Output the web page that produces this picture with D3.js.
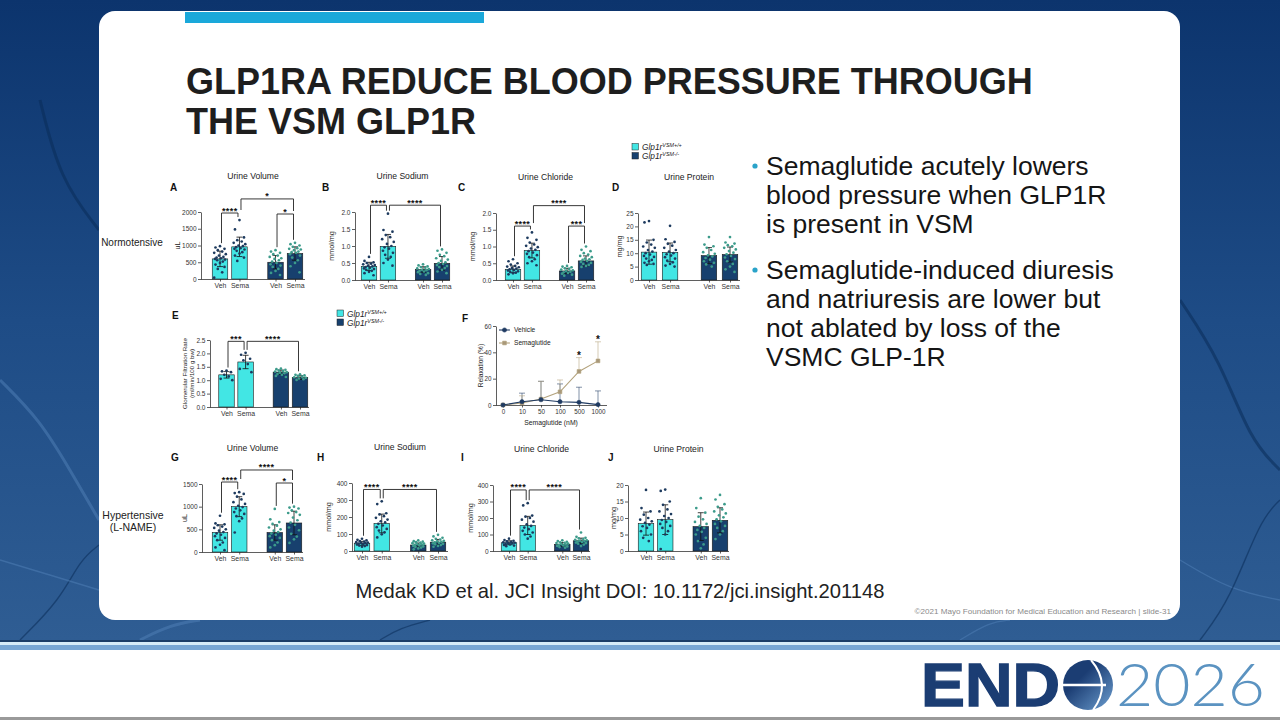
<!DOCTYPE html>
<html>
<head>
<meta charset="utf-8">
<script src="https://cdnjs.cloudflare.com/ajax/libs/d3/7.8.5/d3.min.js"></script>
<style>
  body { margin: 0; background: #fff; overflow: hidden; }
  svg { display: block; }
</style>
</head>
<body>
<script>
// ---- data ----
const groupLabels = ["Veh", "Sema", "Veh", "Sema"];
const legendSup = ["VSM+/+", "VSM-/-"];

// A urine volume, normotensive (uL)
const volNTicks = [0, 500, 1000, 1500, 2000];
const volNMean = [600, 960, 500, 760];
const volNSD = [230, 290, 200, 200];
const volNPts = [
  [980, 940, 900, 860, 820, 780, 740, 700, 660, 640, 620, 600, 580, 560, 520, 480, 430, 360, 300, 200, 40],
  [1760, 1480, 1240, 1160, 1120, 1080, 1040, 1000, 980, 950, 920, 900, 880, 840, 800, 760, 700, 640, 540],
  [860, 820, 780, 740, 700, 660, 620, 600, 560, 520, 480, 440, 400, 360, 300, 240, 180, 120],
  [1080, 1040, 1000, 960, 920, 900, 880, 860, 820, 800, 780, 740, 700, 640, 560, 480, 380, 200]
];
const volNSig = [[0, 1, 1970, "****"], [1, 3, 2390, "*"], [2, 3, 1940, "*"]];

// B urine sodium, normotensive (mmol/mg)
const sodNTicks = [0, 0.5, 1, 1.5, 2];
const sodNMean = [0.40, 0.99, 0.31, 0.49];
const sodNSD = [0.12, 0.35, 0.08, 0.2];
const sodNPts = [
  [0.68, 0.56, 0.52, 0.50, 0.48, 0.46, 0.44, 0.42, 0.40, 0.38, 0.36, 0.34, 0.32, 0.30, 0.27, 0.24, 0.2, 0.14],
  [1.95, 1.47, 1.42, 1.32, 1.26, 1.2, 1.12, 1.06, 1.0, 0.96, 0.92, 0.86, 0.8, 0.74, 0.68, 0.6, 0.5, 0.42],
  [0.46, 0.43, 0.4, 0.38, 0.36, 0.34, 0.32, 0.3, 0.29, 0.27, 0.25, 0.23, 0.2, 0.18, 0.15],
  [0.9, 0.86, 0.8, 0.74, 0.7, 0.64, 0.6, 0.56, 0.52, 0.5, 0.47, 0.44, 0.41, 0.38, 0.35, 0.3, 0.25, 0.2]
];
const sodNSig = [[0, 1, 2.2, "****"], [1, 3, 2.2, "****"]];

// C urine chloride, normotensive (mmol/mg)
const chlNTicks = [0, 0.5, 1, 1.5, 2];
const chlNMean = [0.32, 0.88, 0.27, 0.57];
const chlNSD = [0.1, 0.22, 0.08, 0.15];
const chlNPts = [
  [0.62, 0.56, 0.5, 0.46, 0.42, 0.4, 0.38, 0.36, 0.34, 0.32, 0.3, 0.28, 0.26, 0.24, 0.22, 0.2, 0.17],
  [1.42, 1.26, 1.2, 1.12, 1.06, 1.02, 0.98, 0.94, 0.9, 0.86, 0.82, 0.78, 0.74, 0.68, 0.62, 0.56, 0.5, 0.44],
  [0.42, 0.4, 0.38, 0.35, 0.33, 0.31, 0.29, 0.27, 0.25, 0.23, 0.21, 0.19, 0.16, 0.13],
  [1.0, 0.9, 0.86, 0.8, 0.76, 0.72, 0.68, 0.64, 0.62, 0.6, 0.57, 0.54, 0.51, 0.48, 0.45, 0.42, 0.39]
];
const chlNSig = [[0, 1, 1.61, "****"], [1, 3, 2.22, "****"], [2, 3, 1.61, "***"]];

// D urine protein, normotensive (mg/mg)
const protNTicks = [0, 5, 10, 15, 20, 25];
const protNMean = [10.4, 10.3, 9.1, 9.5];
const protNSD = [4.5, 3.5, 3, 2.8];
const protNPts = [
  [22, 21.5, 15, 14, 13.2, 12.5, 12, 11.2, 10.6, 10, 9.5, 9, 8.6, 8, 7.5, 7, 6.4, 6, 5.6],
  [20.2, 15.2, 14.2, 13.5, 12.8, 12, 11.2, 10.6, 10, 9.6, 9.1, 8.5, 8, 7.2, 6.6, 6, 5.4, 5],
  [16, 13.2, 12.6, 12, 11.2, 10.4, 9.8, 9.2, 8.8, 8.2, 7.6, 7, 6.4, 5.8, 5],
  [16, 14, 13.6, 13, 12.6, 12, 11.4, 10.8, 10.2, 9.6, 9, 8.4, 7.8, 7, 6, 5, 4, 3]
];
const protNSig = [];

// E glomerular filtration rate
const gfrTicks = [0, 0.5, 1, 1.5, 2, 2.5];
const gfrMean = [1.2, 1.68, 1.3, 1.1];
const gfrSD = [0.12, 0.25, 0.08, 0.07];
const gfrPts = [
  [1.36, 1.33, 1.3, 1.2, 1.14, 1.05, 1.0],
  [2.02, 1.95, 1.8, 1.74, 1.6, 1.42, 1.3],
  [1.43, 1.41, 1.39, 1.36, 1.34, 1.32, 1.3, 1.28, 1.26, 1.23, 1.2, 1.16, 1.12],
  [1.22, 1.2, 1.18, 1.16, 1.13, 1.11, 1.09, 1.06, 1.04, 1.01]
];
const gfrSig = [[0, 1, 2.45, "***"], [1, 3, 2.45, "****"]];

// F relaxation
const doseLabels = ["0", "10", "50", "100", "500", "1000"];
const relaxTicks = [0, 20, 40, 60];
const vehRelax = [0, 2.5, 4, 2.5, 2, 0.3];
const vehRelaxErr = [0, 6.5, 14, 13.5, 11.5, 10.4];
const semaRelax = [0, 1.5, 4.5, 10, 25.5, 33.5];
const semaRelaxErr = [0, 5.5, 13.5, 9, 10.5, 14.5];
const relaxSig = ["", "", "", "", "*", "*"];
const relaxSeries = ["Vehicle", "Semaglutide"];

// G urine volume, hypertensive
const volHTicks = [0, 500, 1000, 1500];
const volHMean = [430, 1000, 430, 640];
const volHSD = [170, 220, 170, 260];
const volHPts = [
  [800, 630, 610, 590, 560, 530, 500, 470, 440, 410, 380, 350, 310, 260, 210, 160, 100, 40],
  [1320, 1300, 1280, 1220, 1160, 1100, 1060, 1020, 990, 960, 920, 880, 840, 790, 740, 680, 430],
  [950, 720, 660, 620, 580, 540, 500, 470, 440, 410, 380, 350, 310, 260, 210, 150, 100],
  [1000, 980, 960, 920, 880, 860, 820, 760, 700, 650, 600, 540, 480, 400, 340, 280, 200]
];
const volHSig = [[0, 1, 1544, "****"], [1, 3, 1809, "****"], [2, 3, 1522, "*"]];

// H urine sodium, hypertensive
const sodHTicks = [0, 100, 200, 300, 400];
const sodHMean = [45, 162, 35, 52];
const sodHSD = [12, 55, 12, 16];
const sodHPts = [
  [72, 66, 62, 58, 55, 52, 50, 48, 46, 43, 40, 38, 35, 32, 29, 25],
  [292, 276, 222, 215, 205, 195, 185, 175, 168, 160, 150, 140, 130, 120, 110, 98, 80],
  [62, 58, 55, 52, 49, 46, 43, 41, 39, 36, 33, 30, 27, 24, 20, 15, 10],
  [95, 86, 78, 72, 67, 63, 60, 57, 54, 51, 48, 45, 42, 39, 35, 30, 25]
];
const sodHSig = [[0, 1, 362, "****"], [1, 3, 362, "****"]];

// I urine chloride, hypertensive
const chlHTicks = [0, 100, 200, 300, 400];
const chlHMean = [50, 155, 40, 62];
const chlHSD = [12, 55, 11, 16];
const chlHPts = [
  [75, 66, 62, 58, 55, 52, 50, 48, 46, 43, 40, 37, 33, 29],
  [290, 276, 215, 208, 200, 190, 178, 162, 152, 142, 132, 122, 112, 100, 88, 75],
  [65, 60, 56, 53, 50, 48, 45, 42, 40, 37, 34, 31, 28, 24, 20],
  [112, 86, 80, 76, 72, 68, 65, 62, 60, 57, 54, 51, 48, 44, 39, 30]
];
const chlHSig = [[0, 1, 370, "****"], [1, 3, 370, "****"]];

// J urine protein, hypertensive
const protHTicks = [0, 5, 10, 15, 20];
const protHMean = [8.3, 9.5, 7.4, 9.3];
const protHSD = [3.5, 4.5, 4.2, 3.8];
const protHPts = [
  [18.5, 13, 12, 11, 10, 9.5, 9, 8.5, 8, 7.5, 7, 6, 5, 4, 3],
  [18.6, 18.2, 15, 14, 12.6, 12, 11.2, 10.6, 10, 9.4, 8.8, 8.2, 7.6, 7, 6, 5, 0.6],
  [16, 13, 11.6, 10.4, 9.6, 8.8, 8.2, 7.6, 7, 6.4, 5.8, 5, 4, 3, 2, 0.8],
  [17, 15.6, 14.2, 13.4, 12.6, 12, 11.4, 10.8, 10.2, 9.6, 9, 8.2, 7.6, 7, 6, 5, 3.6]
];
const protHSig = [];

const bullets = [
  ["Semaglutide acutely lowers", "blood pressure when GLP1R", "is present in VSM"],
  ["Semaglutide-induced diuresis", "and natriuresis are lower but", "not ablated by loss of the", "VSMC GLP-1R"]
];

// ---- styles ----
const FONT = "'Liberation Sans', Arial, sans-serif";
const CYAN = "#42e6e4", NAVY = "#17406e";
const DOT_ON_CYAN = "#1d3a5e", DOT_ON_NAVY = "#3c9b8b";
const INK = "#2a2a2a";

const svg = d3.select("body").append("svg")
  .attr("width", 1280).attr("height", 720)
  .attr("font-family", FONT);

// ---- slide background ----
const defs = svg.append("defs");
const bg = defs.append("linearGradient").attr("id", "bg").attr("x1", 0).attr("y1", 0).attr("x2", 0).attr("y2", 1);
bg.append("stop").attr("offset", 0).attr("stop-color", "#0c346d");
bg.append("stop").attr("offset", 0.5).attr("stop-color", "#1e4c86");
bg.append("stop").attr("offset", 1).attr("stop-color", "#2f5d93");
svg.append("rect").attr("width", 1280).attr("height", 641).attr("fill", "url(#bg)");

// faint vessel texture
const vessel = d3.line().curve(d3.curveBasis);
const vesselPaths = [
  [[0, 380], [40, 420], [70, 470], [99, 520]],
  [[20, 640], [60, 600], [80, 560], [99, 545]],
  [[0, 560], [50, 575], [99, 590]],
  [[1180, 300], [1220, 360], [1250, 440], [1280, 470]],
  [[1180, 560], [1230, 590], [1280, 600]],
  [[1200, 640], [1230, 600], [1260, 520], [1280, 500]],
  [[140, 640], [170, 625], [200, 620]],
  [[380, 640], [400, 628], [430, 620]],
  [[960, 640], [990, 622], [1010, 620]],
  [[40, 100], [60, 180], [99, 230]]
];
vesselPaths.forEach((p, i) => {
  svg.append("path").attr("d", vessel(p)).attr("fill", "none")
    .attr("stroke", i % 2 ? "#0a2b58" : "#4f7db4").attr("stroke-opacity", 0.55)
    .attr("stroke-width", i % 3 === 0 ? 3 : 1.4);
});

// white card
svg.append("rect").attr("x", 99).attr("y", 11).attr("width", 1081).attr("height", 609)
  .attr("rx", 16).attr("fill", "#ffffff");
svg.append("rect").attr("x", 185).attr("y", 12).attr("width", 299).attr("height", 11).attr("fill", "#1aa8da");

// footer stripes
svg.append("rect").attr("x", 0).attr("y", 640).attr("width", 1280).attr("height", 2).attr("fill", "#1b3d68");
svg.append("rect").attr("x", 0).attr("y", 642).attr("width", 1280).attr("height", 3).attr("fill", "#d6ebf8");
svg.append("rect").attr("x", 0).attr("y", 645).attr("width", 1280).attr("height", 5).attr("fill", "#78a6d4");
svg.append("rect").attr("x", 0).attr("y", 717).attr("width", 1280).attr("height", 3).attr("fill", "#9a9a9a");

// ---- title ----
svg.append("text").attr("x", 186).attr("y", 94).attr("font-size", 36).attr("font-weight", "bold")
  .attr("fill", "#1e1e1e").text("GLP1RA REDUCE BLOOD PRESSURE THROUGH");
svg.append("text").attr("x", 186).attr("y", 134).attr("font-size", 36).attr("font-weight", "bold")
  .attr("fill", "#1e1e1e").text("THE VSM GLP1R");

// ---- bullets ----
const bulletTop = [175, 279];
bullets.forEach((lines, b) => {
  svg.append("circle").attr("cx", 755).attr("cy", bulletTop[b] - 9).attr("r", 2.6).attr("fill", "#2aa3c9");
  lines.forEach((t, i) => {
    svg.append("text").attr("x", 766).attr("y", bulletTop[b] + i * 29)
      .attr("font-size", 26.5).attr("fill", "#151515").text(t);
  });
});

// citation and copyright
svg.append("text").attr("x", 620).attr("y", 598).attr("text-anchor", "middle")
  .attr("font-size", 20.2).attr("fill", "#222").text("Medak KD et al. JCI Insight DOI: 10.1172/jci.insight.201148");
svg.append("text").attr("x", 1171).attr("y", 614).attr("text-anchor", "end")
  .attr("font-size", 8.1).attr("fill", "#8a8a8a")
  .text("\u00a92021 Mayo Foundation for Medical Education and Research  |  slide-31");

// row labels
svg.append("text").attr("x", 132).attr("y", 246).attr("text-anchor", "middle").attr("font-size", 10)
  .attr("fill", "#222").text("Normotensive");
svg.append("text").attr("x", 133).attr("y", 519).attr("text-anchor", "middle").attr("font-size", 10.5)
  .attr("fill", "#222").text("Hypertensive");
svg.append("text").attr("x", 133).attr("y", 531).attr("text-anchor", "middle").attr("font-size", 10.5)
  .attr("fill", "#222").text("(L-NAME)");

// ---- legend ----
function legend(x, y) {
  [CYAN, NAVY].forEach((c, i) => {
    svg.append("rect").attr("x", x).attr("y", y + i * 9).attr("width", 6.5).attr("height", 6.5)
      .attr("fill", c).attr("stroke", "#222").attr("stroke-width", 0.5);
    const t = svg.append("text").attr("x", x + 10).attr("y", y + i * 9 + 6.5)
      .attr("font-size", 8.3).attr("font-style", "italic").attr("fill", "#222");
    t.append("tspan").text("Glp1r");
    t.append("tspan").attr("font-size", 5.4).attr("dy", -3).text(legendSup[i]);
  });
}
legend(632, 143.5);
legend(337, 310);

// ---- bar panels ----
const slots = [0, 1, 2.85, 3.85];
function barPanel(c) {
  const y = d3.scaleLinear().domain([0, c.max]).range([c.yBot, c.yTop]);
  const x = d3.scaleLinear().domain([0, 3.85]).range([c.c0, c.c3]);
  const cx = i => x(slots[i]);
  const bw = 15.5;
  const g = svg.append("g");

  g.append("text").attr("x", (c.x0 + c.x1) / 2).attr("y", c.yTop - 33).attr("text-anchor", "middle")
    .attr("font-size", 8.6).attr("fill", "#222").text(c.title);
  g.append("text").attr("x", c.lx).attr("y", c.ly).attr("font-size", 10).attr("font-weight", "bold")
    .attr("fill", "#111").text(c.letter);

  const ya = g.append("g").attr("transform", `translate(${c.x0},0)`)
    .call(d3.axisLeft(y).tickValues(c.ticks).tickFormat(d3.format(c.fmt))
      .tickSize(3).tickSizeOuter(0).tickPadding(1.5));
  const xa = g.append("g").attr("transform", `translate(0,${c.yBot})`)
    .call(d3.axisBottom(x).tickValues(slots).tickFormat((d, i) => groupLabels[i])
      .tickSize(2.5).tickSizeOuter(0).tickPadding(2));
  xa.select(".domain").remove();
  xa.append("line").attr("x1", c.x0).attr("x2", c.x1).attr("y1", 0.5).attr("y2", 0.5).attr("stroke", INK);
  [ya, xa].forEach(a => {
    a.selectAll("line, path").attr("stroke", INK).attr("stroke-width", 0.75);
    a.selectAll("text").attr("font-family", FONT).attr("fill", "#333");
  });
  ya.selectAll("text").attr("font-size", 6.5);
  xa.selectAll("text").attr("font-size", 6.9);

  c.ylabel.forEach((t, i) => {
    g.append("text").attr("transform", `translate(${c.ylx[i]},${(c.yTop + c.yBot) / 2}) rotate(-90)`)
      .attr("text-anchor", "middle").attr("font-size", c.ylabel.length > 1 ? 6.2 : 7.2).attr("fill", "#222").text(t);
  });

  // bars
  g.selectAll("rect.bar").data(c.mean).join("rect").attr("class", "bar")
    .attr("x", (d, i) => cx(i) - bw / 2).attr("y", d => y(d))
    .attr("width", bw).attr("height", d => c.yBot - y(d))
    .attr("fill", (d, i) => i < 2 ? CYAN : NAVY).attr("stroke", "#1a1a1a").attr("stroke-width", 0.6);

  // SD error bars
  c.mean.forEach((m, i) => {
    const lo = y(Math.max(0, m - c.sd[i])), hi = y(m + c.sd[i]);
    g.append("line").attr("x1", cx(i)).attr("x2", cx(i)).attr("y1", lo).attr("y2", hi).attr("stroke", "#111").attr("stroke-width", 0.8);
    [lo, hi].forEach(v => g.append("line").attr("x1", cx(i) - 3).attr("x2", cx(i) + 3)
      .attr("y1", v).attr("y2", v).attr("stroke", "#111").attr("stroke-width", 0.8));
  });

  // individual points
  const jit = [0, -4.5, 4.5, -2.2, 2.2, -5.8, 5.8, -1, 3.4, -3.4, 1, -5, 5, -2.8, 2.8];
  c.pts.forEach((arr, i) => {
    g.selectAll(null).data(arr).join("circle")
      .attr("cx", (d, k) => cx(i) + jit[k % jit.length])
      .attr("cy", d => y(d)).attr("r", 1.35)
      .attr("fill", i < 2 ? DOT_ON_CYAN : DOT_ON_NAVY);
  });

  // significance brackets
  const top = i => Math.max(d3.max(c.pts[i]), c.mean[i] + c.sd[i]);
  c.sig.forEach(([a, b, level, label]) => {
    const yl = y(level);
    const legEnd = k => {
      const obs = [top(k)];
      c.sig.forEach(o => { if (o[2] < level && o[0] <= k && k <= o[1]) obs.push(o[2]); });
      return Math.max(yl + 2, y(d3.max(obs)) - 3);
    };
    const xa0 = cx(a) + 1.5, xb0 = cx(b) - 1.5;
    g.append("path").attr("d", `M${xa0},${legEnd(a)}V${yl}H${xb0}V${legEnd(b)}`)
      .attr("fill", "none").attr("stroke", "#222").attr("stroke-width", 0.9);
    g.append("text").attr("x", (xa0 + xb0) / 2).attr("y", yl + 0.5).attr("text-anchor", "middle")
      .attr("font-size", 9).attr("font-weight", "bold").attr("letter-spacing", 0.4).attr("fill", "#111").text(label);
  });
}

const panels = [
  { letter: "A", title: "Urine Volume", ylabel: ["uL"], ylx: [180], mean: volNMean, sd: volNSD, pts: volNPts, sig: volNSig,
    ticks: volNTicks, max: 2000, fmt: "d", x0: 201, x1: 305, c0: 220, c3: 295, yTop: 212, yBot: 279, lx: 170, ly: 191 },
  { letter: "B", title: "Urine Sodium", ylabel: ["mmol/mg"], ylx: [334], mean: sodNMean, sd: sodNSD, pts: sodNPts, sig: sodNSig,
    ticks: sodNTicks, max: 2, fmt: ".1f", x0: 355, x1: 450, c0: 369, c3: 442, yTop: 212, yBot: 280, lx: 322, ly: 191 },
  { letter: "C", title: "Urine Chloride", ylabel: ["mmol/mg"], ylx: [475], mean: chlNMean, sd: chlNSD, pts: chlNPts, sig: chlNSig,
    ticks: chlNTicks, max: 2, fmt: ".1f", x0: 496, x1: 595, c0: 513, c3: 586, yTop: 213, yBot: 280, lx: 458, ly: 191 },
  { letter: "D", title: "Urine Protein", ylabel: ["mg/mg"], ylx: [622], mean: protNMean, sd: protNSD, pts: protNPts, sig: protNSig,
    ticks: protNTicks, max: 25, fmt: "d", x0: 638, x1: 740, c0: 649, c3: 730, yTop: 213, yBot: 280, lx: 612, ly: 191 },
  { letter: "E", title: "", ylabel: ["Glomerular Filtration Rate", "(ml/min/100 g bw)"], ylx: [187, 194], mean: gfrMean, sd: gfrSD, pts: gfrPts, sig: gfrSig,
    ticks: gfrTicks, max: 2.5, fmt: ".1f", x0: 210, x1: 309, c0: 226.5, c3: 300, yTop: 340, yBot: 407, lx: 172, ly: 319 },
  { letter: "G", title: "Urine Volume", ylabel: ["uL"], ylx: [187], mean: volHMean, sd: volHSD, pts: volHPts, sig: volHSig,
    ticks: volHTicks, max: 1500, fmt: "d", x0: 202, x1: 303, c0: 220, c3: 294, yTop: 484, yBot: 552, lx: 171, ly: 461 },
  { letter: "H", title: "Urine Sodium", ylabel: ["mmol/mg"], ylx: [331], mean: sodHMean, sd: sodHSD, pts: sodHPts, sig: sodHSig,
    ticks: sodHTicks, max: 400, fmt: "d", x0: 352, x1: 448, c0: 362, c3: 438, yTop: 483, yBot: 551, lx: 317, ly: 461 },
  { letter: "I", title: "Urine Chloride", ylabel: ["mmol/mg"], ylx: [473], mean: chlHMean, sd: chlHSD, pts: chlHPts, sig: chlHSig,
    ticks: chlHTicks, max: 400, fmt: "d", x0: 493, x1: 590, c0: 509, c3: 581, yTop: 485, yBot: 551, lx: 461, ly: 461 },
  { letter: "J", title: "Urine Protein", ylabel: ["mg/mg"], ylx: [616], mean: protHMean, sd: protHSD, pts: protHPts, sig: protHSig,
    ticks: protHTicks, max: 20, fmt: "d", x0: 628, x1: 729, c0: 646, c3: 720, yTop: 485, yBot: 551, lx: 608, ly: 461 }
];
panels.forEach(barPanel);

// ---- F: relaxation dose response ----
(function () {
  const x0 = 496, x1 = 607, yTop = 326, yBot = 405;
  const x = d3.scalePoint().domain(doseLabels).range([503, 598]);
  const y = d3.scaleLinear().domain([0, 60]).range([yBot, yTop]);
  const g = svg.append("g");
  g.append("text").attr("x", 462).attr("y", 322).attr("font-size", 10).attr("font-weight", "bold").attr("fill", "#111").text("F");

  const ya = g.append("g").attr("transform", `translate(${x0},0)`)
    .call(d3.axisLeft(y).tickValues(relaxTicks).tickSize(3).tickSizeOuter(0).tickPadding(1.5));
  const xa = g.append("g").attr("transform", `translate(0,${yBot})`)
    .call(d3.axisBottom(x).tickSize(2.5).tickSizeOuter(0).tickPadding(2));
  xa.select(".domain").remove();
  xa.append("line").attr("x1", x0).attr("x2", x1).attr("y1", 0.5).attr("y2", 0.5).attr("stroke", INK);
  [ya, xa].forEach(a => {
    a.selectAll("line, path").attr("stroke", INK).attr("stroke-width", 0.75);
    a.selectAll("text").attr("font-family", FONT).attr("fill", "#333").attr("font-size", 6.3);
  });
  g.append("text").attr("transform", `translate(483,${(yTop + yBot) / 2}) rotate(-90)`).attr("text-anchor", "middle")
    .attr("font-size", 6.6).attr("fill", "#222").text("Relaxation (%)");
  g.append("text").attr("x", 551).attr("y", 425).attr("text-anchor", "middle")
    .attr("font-size", 6.8).attr("fill", "#222").text("Semaglutide (nM)");

  const series = [
    { vals: vehRelax, err: vehRelaxErr, color: "#1f3a62", fill: "#1f3a62", shape: d3.symbolCircle },
    { vals: semaRelax, err: semaRelaxErr, color: "#b3a27c", fill: "#a8987a", shape: d3.symbolSquare }
  ];
  const line = d3.line().x((d, i) => x(doseLabels[i])).y(d => y(d));
  series.forEach(s => {
    s.vals.forEach((v, i) => {
      if (!s.err[i]) return;
      const xx = x(doseLabels[i]), yt = y(v + s.err[i]);
      g.append("line").attr("x1", xx).attr("x2", xx).attr("y1", y(v)).attr("y2", yt).attr("stroke", s.color).attr("stroke-width", 0.7).attr("stroke-opacity", 0.8);
      g.append("line").attr("x1", xx - 3).attr("x2", xx + 3).attr("y1", yt).attr("y2", yt).attr("stroke", s.color).attr("stroke-width", 0.7).attr("stroke-opacity", 0.8);
    });
  });
  series.slice().reverse().forEach(s => {
    g.append("path").attr("d", line(s.vals)).attr("fill", "none").attr("stroke", s.color).attr("stroke-width", 1.1);
    g.selectAll(null).data(s.vals).join("path")
      .attr("transform", (d, i) => `translate(${x(doseLabels[i])},${y(d)})`)
      .attr("d", d3.symbol().type(s.shape).size(14))
      .attr("fill", s.fill).attr("stroke", s.color).attr("stroke-width", 0.6);
  });
  relaxSig.forEach((t, i) => {
    if (!t) return;
    g.append("text").attr("x", x(doseLabels[i])).attr("y", y(semaRelax[i] + semaRelaxErr[i]) + 1.5)
      .attr("text-anchor", "middle").attr("font-size", 10).attr("font-weight", "bold").attr("fill", "#111").text(t);
  });
  // legend
  series.forEach((s, i) => {
    const ly = 330 + i * 13;
    g.append("line").attr("x1", 499).attr("x2", 510).attr("y1", ly).attr("y2", ly).attr("stroke", s.color).attr("stroke-width", 1.1);
    g.append("path").attr("transform", `translate(504.5,${ly})`).attr("d", d3.symbol().type(s.shape).size(14))
      .attr("fill", s.fill).attr("stroke", s.color).attr("stroke-width", 0.6);
    g.append("text").attr("x", 514).attr("y", ly + 2.3).attr("font-size", 6.6).attr("fill", "#222").text(relaxSeries[i]);
  });
})();

// ---- ENDO 2026 logo ----
svg.append("text").attr("x", 921).attr("y", 706).attr("font-size", 61).attr("font-weight", "bold")
  .attr("textLength", 139).attr("lengthAdjust", "spacingAndGlyphs")
  .attr("fill", "#1b3d73").attr("stroke", "#1b3d73").attr("stroke-width", 1.4).text("END");
const gg = defs.append("linearGradient").attr("id", "globe").attr("x1", 0).attr("y1", 0).attr("x2", 1).attr("y2", 1);
gg.append("stop").attr("offset", 0.35).attr("stop-color", "#1b3d73");
gg.append("stop").attr("offset", 1).attr("stop-color", "#6d9fd1");
svg.append("circle").attr("cx", 1088).attr("cy", 685).attr("r", 25).attr("fill", "url(#globe)");
svg.append("line").attr("x1", 1062).attr("x2", 1106).attr("y1", 685).attr("y2", 685).attr("stroke", "#fff").attr("stroke-width", 2.4);
svg.append("path").attr("d", "M1091,660 Q1112,685 1093,710").attr("fill", "none").attr("stroke", "#fff").attr("stroke-width", 2);
svg.append("text").attr("x", 1116).attr("y", 706).attr("font-size", 60).attr("font-family", "Lato, 'Open Sans', sans-serif")
  .attr("textLength", 149).attr("lengthAdjust", "spacingAndGlyphs")
  .attr("font-weight", 300).attr("fill", "#5b93c1").text("2026");
</script>
</body>
</html>
